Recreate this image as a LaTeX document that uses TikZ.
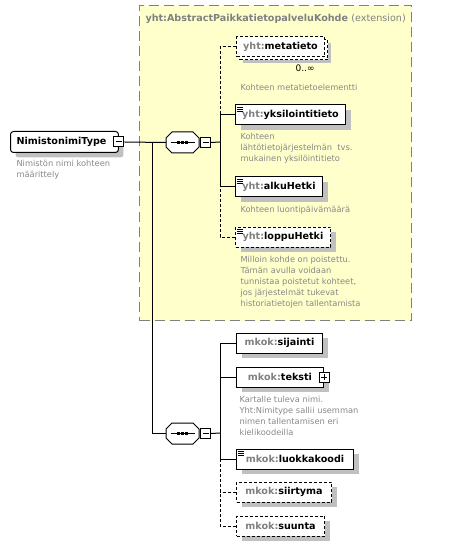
\documentclass[tikz,border=0pt]{standalone}
\usepackage{fontspec}
\setmainfont{DejaVu Sans}
\usetikzlibrary{positioning, shadows}
\definecolor{extfill}{RGB}{255,255,204}
\definecolor{extline}{RGB}{128,128,128}
\definecolor{prefgray}{RGB}{128,128,128}
\definecolor{descgray}{RGB}{136,136,136}
\definecolor{shadowgray}{RGB}{192,192,192}
\newcommand{\namefont}{\fontsize{9.6}{11}\selectfont\bfseries}
\newcommand{\descfont}{\fontsize{8.3}{11}\selectfont}
\newcommand{\ename}[2]{{\color{prefgray}#1:}#2}
% three short lines for simple content
\newcommand{\simpleicon}[1]{%
  \foreach \dy in {2.5,4.5,6.5}
    \draw[line width=0.8pt] ([shift={(2pt,-\dy pt)}]#1.north west) -- ++(6,0);
}
% octagon outline of a sequence node
\newcommand{\octpath}[1]{([xshift=6pt]#1.north west) -- ([xshift=-6pt]#1.north east)
  -- ([yshift=-6pt]#1.north east) -- ([yshift=6pt]#1.south east)
  -- ([xshift=-6pt]#1.south east) -- ([xshift=6pt]#1.south west)
  -- ([yshift=6pt]#1.south west) -- ([yshift=-6pt]#1.north west) -- cycle}
% sequence symbol
\newcommand{\seqicon}[1]{%
  \fill[shadowgray, shift={(5,5)}] \octpath{#1};
  \filldraw[fill=white] \octpath{#1};
  \draw (#1.center) ++(-12,0) -- ++(24,0);
  \foreach \dx in {-4,0,4}
    \fill ([xshift=\dx pt]#1.center) +(-1.3,-1.3) rectangle +(1.3,1.3);
}

\tikzset{
  boxshadow/.style={drop shadow={shadow xshift=5pt, shadow yshift=-5pt, fill=shadowgray, opacity=1}},
  optline/.style={dash pattern=on 3pt off 2pt},
  elembase/.style={draw, fill=white, anchor=west, minimum height=20pt, inner sep=0pt, font=\namefont},
  elem/.style={elembase, boxshadow},
  optelem/.style={elem, optline},
  desc/.style={anchor=north west, align=left, font=\descfont, text=descgray, inner sep=0pt},
  seqbox/.style={minimum width=33pt, minimum height=21pt, inner sep=0pt, outer sep=0pt},
  minusbox/.style={draw, fill=white, minimum size=10pt, inner sep=0pt,
    path picture={\draw ([xshift=-3pt]path picture bounding box.center) -- ([xshift=3pt]path picture bounding box.center);}},
  plusbox/.style={draw, fill=white, minimum size=10pt, inner sep=0pt,
    path picture={\draw ([xshift=-3pt]path picture bounding box.center) -- ([xshift=3pt]path picture bounding box.center);
      \draw ([yshift=-3pt]path picture bounding box.center) -- ([yshift=3pt]path picture bounding box.center);}},
}

\begin{document}
\begin{tikzpicture}[x=1pt, y=-1pt, line width=1pt]
    \useasboundingbox (0,0) rectangle (454,545);

    % Extension area
    \node[draw=extline, fill=extfill, dash pattern=on 10pt off 5pt, anchor=north west,
      minimum width=272pt, minimum height=315pt, inner sep=0pt] (ext) at (139,5) {};
    \node[anchor=west, font=\namefont, text=prefgray, inner sep=0pt] (exttitle) at (145,19)
      {yht:AbstractPaikkatietopalveluKohde \mdseries(extension)};

    % The type
    \node[draw, fill=white, rounded corners=3pt, anchor=west, minimum height=21pt, inner sep=6pt,
      inner ysep=0pt, font=\namefont, boxshadow] (ntype) at (10,142) {NimistonimiType\hspace*{6pt}};
    \node[minusbox] (tminus) at (ntype.east) {};
    \node[desc] (ntypedesc) at (16,160) {Nimistön nimi kohteen\\määrittely};

    % Sequences
    \node[seqbox] (seqA) at (182.5,142.5) {};
    \seqicon{seqA}
    \node[minusbox, anchor=west] (mA) at ([xshift=1pt]seqA.east) {};
    \node[seqbox] (seqB) at (182.5,433.5) {};
    \seqicon{seqB}
    \node[minusbox, anchor=west] (mB) at ([xshift=1pt]seqB.east) {};

    \coordinate (jA) at (152,142);
    \coordinate (bA) at (220,142);
    \coordinate (bB) at (220,433);
    \draw (tminus.east) -- (seqA.west);
    \draw (jA) |- (seqB.west);
    \draw (mA.east) -- (bA);
    \draw (mB.east) -- (bB);

    % Elements of the extension
    \node[elembase, optline, minimum width=88pt, xshift=3pt, yshift=-3pt,
      drop shadow={shadow xshift=3pt, shadow yshift=-3pt, fill=shadowgray, opacity=1}] (metaback) at (236,47) {};
    \node[elembase, optline, minimum width=88pt] (meta) at (236,47) {\ename{yht}{metatieto}};
    \node[font=\fontsize{9}{10}\selectfont, anchor=north east, inner sep=0pt] (metamult) at (315,64) {0..∞};
    \node[desc] (metadesc) at (240,84) {Kohteen metatietoelementti};

    \node[elem, minimum width=110pt] (yks) at (235,115) {\ename{yht}{yksilointitieto}};
    \simpleicon{yks}
    \node[desc] (yksdesc) at (240,133) {Kohteen\\lähtötietojärjestelmän\ \ tvs.\\mukainen yksilöintitieto};

    \node[elem, minimum width=87pt] (alku) at (235,187) {\ename{yht}{alkuHetki}};
    \simpleicon{alku}
    \node[desc] (alkudesc) at (240,206) {Kohteen luontipäivämäärä};

    \node[optelem, minimum width=95pt] (loppu) at (235,237) {\ename{yht}{loppuHetki}};
    \simpleicon{loppu}
    \node[desc] (loppudesc) at (240,256) {Milloin kohde on poistettu.\\Tämän avulla voidaan\\tunnistaa poistetut kohteet,\\jos järjestelmät tukevat\\historiatietojen tallentamista};

    \draw[optline] (meta.west) -| (bA |- yks.west);
    \draw (yks.west) -| (bA |- alku.west) -- (alku.west);
    \draw[optline] (loppu.west) -| (bA |- alku.west);

    % Own elements
    \node[elem, minimum width=86pt] (sij) at (236,343) {\ename{mkok}{sijainti}};
    \node[elem, minimum width=87pt] (tek) at (236,377) {\ename{mkok}{teksti}};
    \node[plusbox] (tplus) at (tek.east) {};
    \node[desc] (tekdesc) at (239,396) {Kartalle tuleva nimi.\\Yht:Nimitype sallii usemman\\nimen tallentamisen eri\\kielikoodeilla};
    \node[elem, minimum width=117pt] (luok) at (236,459) {\ename{mkok}{luokkakoodi}};
    \simpleicon{luok}
    \node[optelem, minimum width=95pt] (siir) at (236,492) {\ename{mkok}{siirtyma}};
    \node[optelem, minimum width=88pt] (suun) at (236,526) {\ename{mkok}{suunta}};

    \draw (sij.west) -| (bB |- luok.west) -- (luok.west);
    \draw (tek.west) -- (bB |- tek.west);
    \draw[optline] (siir.west) -- (bB |- siir.west);
    \draw[optline] (suun.west) -| (bB |- luok.west);
\end{tikzpicture}
\end{document}
